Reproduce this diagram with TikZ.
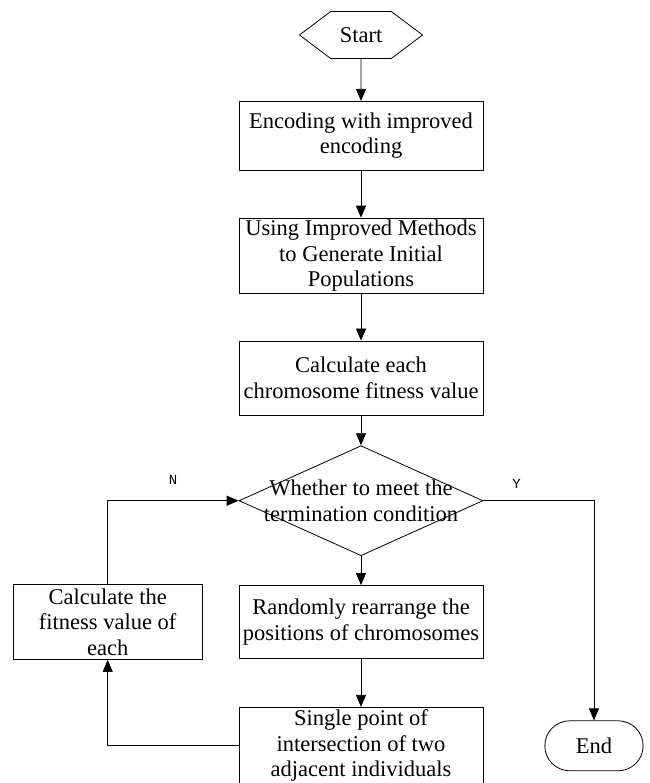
\documentclass[tikz,border=0pt]{standalone}
\usepackage{fontspec}
\setmainfont{Liberation Serif}
\newfontfamily\labfont{Liberation Mono}
\usetikzlibrary{shapes.geometric,shapes.misc,shapes.symbols,arrows.meta,positioning}

\begin{document}
\begin{tikzpicture}[x=1pt, y=1pt, line width=0.8pt, font=\fontsize{22.5}{25.5}\selectfont]
                \tikzstyle{b} = [draw, rectangle, minimum width=244pt, align=center, inner sep=1pt]
                \tikzstyle{t} = [draw, signal, signal to=west and east, signal pointer angle=74, minimum width=123pt, minimum height=47pt, inner sep=0pt]
                \tikzstyle{d} = [draw, diamond, minimum width=244pt, minimum height=110pt, inner sep=0pt]
                \tikzstyle{e} = [draw, rounded rectangle, minimum width=105pt, minimum height=50pt]
                \tikzstyle{l} = [draw, -{Triangle[length=12pt, width=10pt]}]
                \tikzstyle{yn} = [font=\labfont\fontsize{14}{16}\selectfont]

                \useasboundingbox (0,0) rectangle (649,-783);

                \node [t] (start) at (361,-35) {Start};
                \node [b, minimum height=69pt, below=42pt of start] (enc) {Encoding with improved\\encoding};
                \node [b, minimum height=75pt, below=47pt of enc] (init) {Using Improved Methods\\to Generate Initial\\Populations};
                \node [b, minimum height=74pt, below=47pt of init] (fit) {Calculate each\\chromosome fitness value};
                \node [d, below=30pt of fit, label={[align=center]center:Whether to meet the\\termination condition}] (cond) {};
                \node [b, minimum height=73pt, below=29pt of cond] (rand) {Randomly rearrange the\\positions of chromosomes};
                \node [b, minimum height=77pt, below=48pt of rand] (cross) {Single point of\\intersection of two\\adjacent individuals};
                \node [b, minimum width=189pt, minimum height=75pt, left=36pt of rand] (calc) {Calculate the\\fitness value of\\each};
                \node [e, right=61pt of cross] (end) {End};

                \draw [l] (start) -- (enc);
                \draw [l] (enc) -- (init);
                \draw [l] (init) -- (fit);
                \draw [l] (fit) -- (cond);
                \draw [l] (cond) -- (rand);
                \draw [l] (rand) -- (cross);
                \draw [l] (cross.west) -| (calc.south);
                \draw [l] (calc.north) |- node[yn, pos=0.75, above=12pt]{N} (cond.west);
                \draw [l] (cond.east) -| node[yn, pos=0.15, above=8pt]{Y} (end.north);
            \end{tikzpicture}
\end{document}
